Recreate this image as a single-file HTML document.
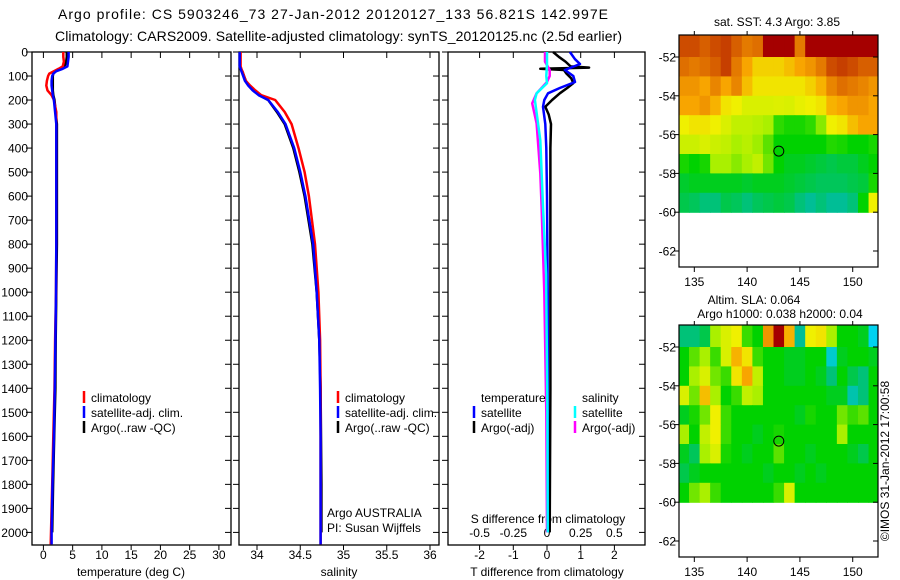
<!DOCTYPE html>
<html><head><meta charset="utf-8"><style>
html,body{margin:0;padding:0;background:#fff;}
svg{display:block;font-family:"Liberation Sans",sans-serif;}
</style></head><body>
<svg id="fig" width="900" height="580" viewBox="0 0 900 580" xmlns="http://www.w3.org/2000/svg">
<text x="58" y="19" font-size="14" textLength="550" lengthAdjust="spacing">Argo profile: CS 5903246_73 27-Jan-2012 20120127_133 56.821S 142.997E</text>
<text x="55" y="41" font-size="14" textLength="567" lengthAdjust="spacing">Climatology: CARS2009. Satellite-adjusted climatology: synTS_20120125.nc (2.5d earlier)</text>
<g id="plots"></g>
</svg>
<script>
// ---------- data ----------
const depths = [0,20,40,60,70,80,90,100,120,140,160,180,200,250,300,400,500,600,800,1000,1200,1400,1600,1800,2000,2050];
const tempClim = [3.4,3.4,3.5,3.3,2.6,1.8,1.0,0.8,0.6,0.5,0.7,1.4,1.8,2.2,2.2,2.2,2.2,2.2,2.2,2.15,2.0,1.9,1.7,1.5,1.3,1.25];
const tempSat = [4.3,4.3,4.2,4.1,3.3,2.2,1.7,1.5,1.4,1.4,1.5,1.6,1.8,2.0,2.2,2.2,2.2,2.2,2.2,2.15,2.05,1.95,1.8,1.55,1.4,1.4];
const tempArgo = [4.0,4.0,3.9,3.6,2.8,2.0,1.7,1.6,1.6,1.6,1.6,1.7,1.9,2.1,2.3,2.3,2.3,2.3,2.3,2.2,2.1,2.05,1.85,1.65,1.5];
const salClim = [33.81,33.81,33.81,33.81,33.82,33.83,33.84,33.85,33.87,33.92,33.98,34.05,34.21,34.32,34.40,34.48,34.55,34.6,34.67,34.71,34.73,34.735,34.735,34.735,34.735,34.735];
const salSat = [33.80,33.80,33.80,33.80,33.81,33.82,33.83,33.84,33.86,33.90,33.95,34.02,34.13,34.24,34.33,34.43,34.5,34.56,34.65,34.69,34.72,34.73,34.735,34.735,34.735,34.735];
const salArgo = [33.80,33.80,33.80,33.80,33.81,33.83,33.84,33.85,33.87,33.91,33.96,34.03,34.13,34.23,34.32,34.42,34.49,34.55,34.64,34.69,34.72,34.735,34.74,34.745,34.745];
const tdArgoDepths = [0,20,40,60,65,70,75,90,110,130,150,172,200,228,260,300,400,600,1000,1400,2000];
const tdArgo = [0.18,0.35,0.55,0.7,1.25,-0.2,0.5,0.58,0.72,0.78,0.6,0.38,0.15,-0.05,0.05,0.12,0.1,0.1,0.1,0.1,0.08];
const tdSatDepths = [0,30,50,75,100,125,150,172,200,228,300,400,600,1000,1400,2000];
const tdSat = [0.68,0.83,0.98,0.53,0.78,0.83,0.38,0.03,-0.08,-0.12,-0.05,-0.02,0.0,0.02,0.02,0.02];
const sdArgoDepths = [0,40,75,100,125,172,214,297,505,644,1000,1500,2000];
const sdArgo = [-0.015,-0.015,0.02,0.02,0.0,-0.077,-0.11,-0.077,-0.05,-0.04,-0.02,-0.005,0.0];
const sdSatDepths = [0,50,100,130,172,200,367,644,922,1500,2000];
const sdSat = [0,0,-0.005,0,-0.077,-0.09,-0.05,-0.03,-0.007,0.003,0.005];
const depthTicks = [0,100,200,300,400,500,600,700,800,900,1000,1100,1200,1300,1400,1500,1600,1700,1800,1900,2000];
const tempTicks = [0,5,10,15,20,25,30];
const salTicks = [34,34.5,35,35.5,36];
const tdTicks = [-2,-1,0,1,2];
const sdTicks = [-0.5,-0.25,0,0.25,0.5];
const mapLons = [134,135,136,137,138,139,140,141,142,143,144,145,146,147,148,149,150,151,152];
const mapLats = [-51.5,-52.5,-53.5,-54.5,-55.5,-56.5,-57.5,-58.5,-59.5];
const latTicks = [-52,-54,-56,-58,-60,-62];
const lonTicks = [135,140,145,150];
const sstGrid = [
[0.88,0.88,0.85,0.88,0.9,0.85,0.8,0.82,1,1,1,0.8,1,1,1,1,1,1,1],
[0.82,0.8,0.82,0.85,0.9,0.8,0.72,0.65,0.65,0.65,0.68,0.72,0.75,0.8,0.88,0.9,0.88,0.85,0.85],
[0.75,0.75,0.72,0.78,0.72,0.78,0.68,0.62,0.62,0.62,0.62,0.62,0.65,0.7,0.78,0.82,0.8,0.78,0.75],
[0.72,0.72,0.75,0.7,0.62,0.6,0.55,0.55,0.55,0.56,0.55,0.58,0.6,0.62,0.7,0.72,0.75,0.75,0.72],
[0.6,0.62,0.62,0.6,0.55,0.5,0.5,0.48,0.45,0.34,0.32,0.32,0.34,0.42,0.6,0.62,0.68,0.72,0.72],
[0.52,0.52,0.55,0.52,0.5,0.45,0.48,0.44,0.38,0.3,0.3,0.3,0.3,0.3,0.33,0.32,0.3,0.3,0.32],
[0.32,0.3,0.32,0.45,0.45,0.42,0.45,0.5,0.4,0.3,0.28,0.28,0.27,0.26,0.25,0.26,0.26,0.28,0.3],
[0.27,0.28,0.28,0.28,0.28,0.28,0.27,0.28,0.28,0.28,0.27,0.26,0.25,0.24,0.24,0.24,0.25,0.26,0.32],
[0.25,0.24,0.22,0.22,0.25,0.24,0.22,0.24,0.25,0.26,0.25,0.22,0.2,0.22,0.2,0.2,0.22,0.3,0.6]];
const slaGrid = [
[0.22,0.22,0.25,0.45,0.55,0.6,0.35,0.3,0.75,1.0,0.7,0.2,0.6,0.62,0.45,0.3,0.3,0.28,0.12],
[0.3,0.38,0.45,0.35,0.55,0.7,0.62,0.35,0.3,0.3,0.28,0.28,0.3,0.3,0.15,0.28,0.3,0.3,0.28],
[0.3,0.45,0.55,0.4,0.35,0.62,0.72,0.5,0.3,0.3,0.28,0.28,0.3,0.28,0.22,0.3,0.25,0.22,0.3],
[0.55,0.4,0.68,0.45,0.3,0.35,0.5,0.45,0.3,0.3,0.3,0.3,0.3,0.3,0.28,0.28,0.18,0.22,0.3],
[0.28,0.32,0.4,0.6,0.35,0.3,0.3,0.3,0.3,0.3,0.3,0.28,0.32,0.3,0.3,0.4,0.35,0.38,0.3],
[0.45,0.3,0.5,0.6,0.35,0.3,0.3,0.28,0.3,0.32,0.3,0.3,0.3,0.3,0.3,0.45,0.3,0.3,0.3],
[0.28,0.24,0.45,0.55,0.32,0.3,0.28,0.3,0.3,0.38,0.3,0.3,0.28,0.3,0.3,0.3,0.28,0.25,0.3],
[0.25,0.28,0.3,0.3,0.3,0.3,0.3,0.3,0.28,0.3,0.3,0.28,0.3,0.28,0.3,0.3,0.3,0.3,0.3],
[0.3,0.4,0.45,0.35,0.3,0.3,0.3,0.3,0.3,0.35,0.55,0.3,0.3,0.3,0.3,0.3,0.3,0.3,0.3]];
const argoLon = 143.0, argoLat = -56.85;

// ---------- helpers ----------
const NS = "http://www.w3.org/2000/svg";
const root = document.getElementById('plots');
function mk(tag, attrs, parent){const e=document.createElementNS(NS,tag);for(const k in attrs)e.setAttribute(k,attrs[k]);(parent||root).appendChild(e);return e;}
function txt(x,y,s,size,anchor,parent){const t=mk('text',{x:x,y:y,'font-size':size||12,'text-anchor':anchor||'middle'},parent);t.textContent=s;return t;}
const yD = d => 52 + d*0.2402;
const PB = 545;
const panels = [
 {name:'temperature', x0:32, x1:231, fx:v=>43.4+v*5.85},
 {name:'salinity', x0:239, x1:439, fx:v=>257+(v-34)*86.5},
 {name:'difference', x0:448, x1:645, fx:v=>547+v*33.7}
];
const sX = v => 547 + v*134.7;

function frame(p){
  const r = mk('rect',{x:p.x0,y:yD(0),width:p.x1-p.x0,height:PB-yD(0),fill:'none',stroke:'#000','stroke-width':1.3});
  
  
  depthTicks.forEach(d=>{
    mk('line',{x1:p.x0,x2:p.x0-6,y1:yD(d),y2:yD(d),stroke:'#000'});
    mk('line',{x1:p.x1,x2:p.x1-6,y1:yD(d),y2:yD(d),stroke:'#000'});
  });
}
panels.forEach(frame);
depthTicks.forEach(d=>{const t=txt(28,yD(d)+4.5,String(d),12,'end');
  
  });

function xTicks(p, ticks, fx, y, labelY){
  ticks.forEach(v=>{
    const x=fx(v);
    mk('line',{x1:x,x2:x,y1:PB,y2:PB+5,stroke:'#000'});
    mk('line',{x1:x,x2:x,y1:yD(0),y2:yD(0)+6,stroke:'#000'});
    if(labelY){const t=txt(x,labelY,String(v),12);
      
      }
  });
}
xTicks('temperature',tempTicks,panels[0].fx,0,559);
xTicks('salinity',salTicks,panels[1].fx,0,559);
xTicks('t-diff',tdTicks,panels[2].fx,0,559);
sdTicks.forEach(v=>{const t=txt(sX(v),537,String(v),12);
  
  });
[['temperature (deg C)',131,'temperature-axis-title'],['salinity',339,'salinity-axis-title'],['T difference from climatology',547,'t-diff-axis-title']].forEach(a=>{
  const t=txt(a[1],576,a[0],12);
  
  });
{const t=txt(548,523,'S difference from climatology',12);
 
 }

function line(ds, vs, fx, color, name, w){
  const pts=[];
  for(let i=0;i<vs.length;i++) pts.push(fx(vs[i]).toFixed(1)+','+yD(ds[i]).toFixed(1));
  const pl=mk('polyline',{points:pts.join(' '),fill:'none',stroke:color,'stroke-width':w||2.5,'stroke-linejoin':'round'});
  
  
}
line(depths,tempArgo,panels[0].fx,'#000','temp-argo-line');
line(depths,tempClim,panels[0].fx,'#f00','temp-climatology-line');
line(depths,tempSat,panels[0].fx,'#00f','temp-satellite-line');
line(depths,salArgo,panels[1].fx,'#000','sal-argo-line');
line(depths,salClim,panels[1].fx,'#f00','sal-climatology-line');
line(depths,salSat,panels[1].fx,'#00f','sal-satellite-line');
line(tdArgoDepths,tdArgo,panels[2].fx,'#000','tdiff-argo-line');
line(tdSatDepths,tdSat,panels[2].fx,'#00f','tdiff-satellite-line');
line(sdArgoDepths,sdArgo,sX,'#f0f','sdiff-argo-line');
line(sdSatDepths,sdSat,sX,'#0ff','sdiff-satellite-line');

function legend(x,y,label,color,name){
  mk('line',{x1:x,x2:x,y1:y-11,y2:y+1,stroke:color,'stroke-width':2.5});
  const t=txt(x+7,y,label,12,'start');
  
  
}
legend(84,402,'climatology','#f00','legend-climatology');
legend(84,417,'satellite-adj. clim.','#00f','legend-satellite');
legend(84,432,'Argo(..raw -QC)','#000','legend-argo');
legend(338,402,'climatology','#f00','legend-sal-climatology');
legend(338,417,'satellite-adj. clim.','#00f','legend-sal-satellite');
legend(338,432,'Argo(..raw -QC)','#000','legend-sal-argo');
{const t=txt(481,402,'temperature',12,'start');}
{const t=txt(582,402,'salinity',12,'start');}
legend(474,417,'satellite','#00f','legend-t-satellite');
legend(474,432,'Argo(-adj)','#000','legend-t-argo');
legend(575,417,'satellite','#0ff','legend-s-satellite');
legend(575,432,'Argo(-adj)','#f0f','legend-s-argo');
{const t=txt(327,517,'Argo AUSTRALIA',12,'start');}
{const t=txt(327,532,'PI: Susan Wijffels',12,'start');}

// ---------- maps ----------
const stops=[[0,[0,80,255]],[0.12,[0,210,240]],[0.2,[0,190,150]],[0.3,[0,210,0]],[0.45,[170,240,0]],[0.6,[240,240,0]],[0.72,[248,165,0]],[0.85,[215,95,0]],[1,[165,0,0]]];
function cmap(v){for(let i=1;i<stops.length;i++){if(v<=stops[i][0]){const a=stops[i-1],b=stops[i],t=(v-a[0])/(b[0]-a[0]);return 'rgb('+a[1].map((c,k)=>Math.round(c+(b[1][k]-c)*t)).join(',')+')';}}return 'rgb(165,0,0)';}
const MX0=679, MX1=878, MH=232;
const mLon = v => MX0 + (v-133.55)*10.56;
function drawMap(top, grid, name){
  const mLat = v => top + 22 + (-52 - v)*19.4;
  const g=mk('g',{});
  
  
  const cp=mk('clipPath',{id:'c'+name},g);
  mk('rect',{x:MX0,y:top,width:MX1-MX0,height:MH},cp);
  const cg=mk('g',{'clip-path':'url(#c'+name+')'},g);
  grid.forEach((row,r)=>row.forEach((v,c)=>{
    const x0=mLon(mapLons[c]-0.5), x1=mLon(mapLons[c]+0.5);
    const y0=mLat(mapLats[r]+0.5), y1=mLat(mapLats[r]-0.5);
    const cell=mk('rect',{x:x0,y:y0-(r===0?5:0),width:x1-x0+0.6,height:y1-y0+0.6+(r===0?5:0),fill:cmap(v)},cg);
    
    
  }));
  mk('rect',{x:MX0,y:top,width:MX1-MX0,height:MH,fill:'none',stroke:'#000','stroke-width':1.2},g);
  latTicks.forEach(v=>{const y=mLat(v);
    mk('line',{x1:MX0,x2:MX0-5,y1:y,y2:y,stroke:'#000'},g);
    mk('line',{x1:MX1,x2:MX1-5,y1:y,y2:y,stroke:'#000'},g);
    const t=txt(676,y+4.5,String(v),12,'end',g);
    
    });
  lonTicks.forEach(v=>{const x=mLon(v);
    mk('line',{x1:x,x2:x,y1:top+MH,y2:top+MH+5,stroke:'#000'},g);
    mk('line',{x1:x,x2:x,y1:top,y2:top-4,stroke:'#000'},g);
    const t=txt(x,top+MH+19,String(v),12,'middle',g);
    
    });
  const m=mk('circle',{cx:mLon(argoLon),cy:mLat(argoLat),r:5,fill:'none',stroke:'#000','stroke-width':1},g);
  
  
}
drawMap(35,sstGrid,'sst-map');
drawMap(325,slaGrid,'sla-map');
{const t=txt(777,26,'sat. SST: 4.3 Argo: 3.85',12);}
{const t=txt(754,304,'Altim. SLA: 0.064',12);}
{const t=txt(780,318,'Argo h1000: 0.038 h2000: 0.04',12);}
{const t=txt(0,0,'©IMOS 31-Jan-2012 17:00:58',12,'middle');t.setAttribute('transform','translate(889,461) rotate(-90)');
 }
</script>
</body></html>
